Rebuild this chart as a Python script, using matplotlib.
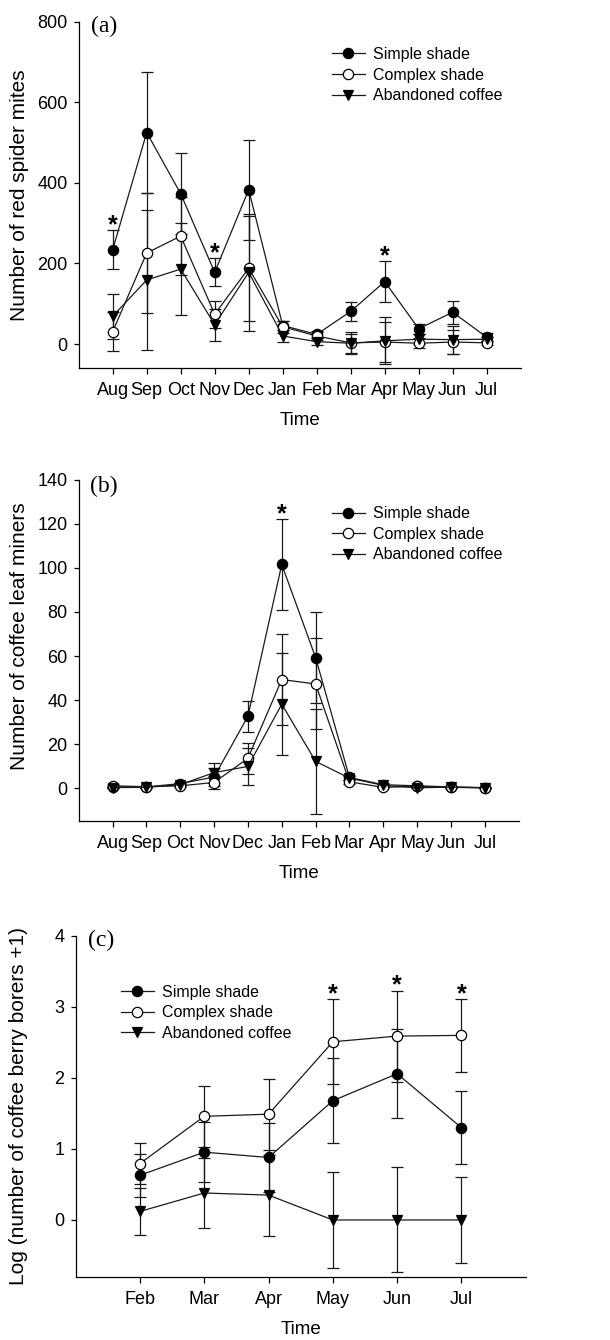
"""Seasonal pest counts under three coffee management types, panels (a)-(c)."""

import matplotlib

matplotlib.use("Agg")
import matplotlib.pyplot as plt
import numpy as np

plt.rcParams.update(
    {
        "font.family": ["Liberation Sans", "DejaVu Sans"],
        "font.size": 13,
        "axes.linewidth": 0.9,
        "xtick.major.width": 0.9,
        "ytick.major.width": 0.9,
        "xtick.major.size": 4.5,
        "ytick.major.size": 3.8,
        "xtick.direction": "out",
        "ytick.direction": "out",
        "xtick.labelsize": 13,
        "ytick.labelsize": 13,
    }
)

SERIES = ["Simple shade", "Complex shade", "Abandoned coffee"]

# (a) red spider mites, Aug..Jul
months_a = ["Aug", "Sep", "Oct", "Nov", "Dec", "Jan", "Feb", "Mar", "Apr", "May", "Jun", "Jul"]
mites_simple = [234, 525, 373, 178, 383, 46, 24, 81, 155, 38, 79, 17]
mites_simple_err = [48, 149, 100, 35, 124, 12, 8, 23, 50, 12, 28, 10]
mites_complex = [31, 226, 268, 74, 188, 43, 20, 3, 5, 2, 5, 3]
mites_complex_err = [49, 149, 97, 34, 130, 15, 10, 27, 50, 12, 30, 5]
mites_aband = [69, 159, 186, 48, 178, 20, 6, 2, 8, 12, 11, 12]
mites_aband_err = [56, 173, 115, 40, 145, 16, 8, 24, 58, 12, 35, 5]
mites_stars = ["Aug", "Nov", "Apr"]

# (b) coffee leaf miners, Aug..Jul
miners_simple = [0.5, 0.5, 2.0, 5.0, 32.6, 101.6, 59.3, 4.8, 1.5, 1.0, 0.5, 0.2]
miners_simple_err = [0.5, 0.5, 0.8, 4.0, 7.0, 20.5, 20.7, 1.0, 0.6, 0.5, 0.4, 0.2]
miners_complex = [1.0, 0.6, 1.0, 2.5, 13.5, 49.3, 47.3, 2.8, 0.3, 0.8, 0.3, 0.1]
miners_complex_err = [0.6, 0.5, 0.6, 3.0, 7.0, 20.5, 20.7, 1.0, 0.3, 0.5, 0.3, 0.1]
miners_aband = [0.2, 0.3, 1.5, 7.0, 9.8, 38.1, 12.1, 4.5, 1.2, 0.1, 0.4, 0.1]
miners_aband_err = [0.2, 0.3, 0.8, 4.5, 8.5, 23.3, 24.0, 1.0, 0.6, 0.1, 0.3, 0.1]
miners_stars = ["Jan"]

# (c) log(coffee berry borers + 1), Feb..Jul
months_c = ["Feb", "Mar", "Apr", "May", "Jun", "Jul"]
borer_simple = [0.63, 0.955, 0.88, 1.68, 2.06, 1.30]
borer_simple_err = [0.30, 0.42, 0.49, 0.60, 0.63, 0.51]
borer_complex = [0.795, 1.46, 1.49, 2.51, 2.59, 2.60]
borer_complex_err = [0.29, 0.43, 0.50, 0.60, 0.64, 0.51]
borer_aband = [0.12, 0.38, 0.35, 0.0, 0.0, 0.0]
borer_aband_err = [0.33, 0.49, 0.57, 0.68, 0.74, 0.60]
borer_stars = ["May", "Jun", "Jul"]

STYLES = [
    dict(marker="o", mfc="black", mec="black"),
    dict(marker="o", mfc="white", mec="black"),
    dict(marker="v", mfc="black", mec="black"),
]
INK = "#1a1a1a"


def draw_panel(ax, months, series, errs, stars, ylim, yticks, ylabel, label_xy,
               tag, tag_y, legend_xy):
    x = np.arange(len(months))
    for vals, err, style, name in zip(series, errs, STYLES, SERIES):
        ax.errorbar(x, vals, yerr=err, fmt="none", ecolor=INK, elinewidth=0.9,
                    capsize=4.3, capthick=0.9, zorder=2)
        ax.plot(x, vals, color=INK, lw=0.9, ms=7.4, mew=0.9, label=name,
                zorder=3, **style)

    # significance stars sit above the highest upper error cap
    tops = np.max([np.asarray(v) + np.asarray(e) for v, e in zip(series, errs)], axis=0)
    for m in stars:
        i = months.index(m)
        ax.annotate("*", (x[i], tops[i]), xytext=(0, -1.5), textcoords="offset points",
                    ha="center", va="baseline", fontsize=18, fontweight="bold")

    ax.set_xlim(-1, len(months))
    ax.set_ylim(*ylim)
    ax.set_yticks(yticks)
    ax.set_xticks(x)
    ax.set_xticklabels(months)
    ax.tick_params(axis="x", pad=5.5)
    ax.tick_params(axis="y", pad=4.3)
    for side in ("top", "right"):
        ax.spines[side].set_visible(False)
    ax.set_xlabel("Time", fontsize=13.5, labelpad=9.5)
    ax.set_ylabel(ylabel, fontsize=15)
    ax.yaxis.set_label_coords(*label_xy)
    ax.text(0.057, tag_y, tag, transform=ax.transAxes,
            ha="center", va="center", fontsize=17, family="Liberation Serif")
    ax.legend(loc="upper left", bbox_to_anchor=legend_xy, frameon=False,
              fontsize=11.5, numpoints=1, handlelength=2.1, handletextpad=0.5,
              labelspacing=0.35, borderpad=0, borderaxespad=0)


fig = plt.figure(figsize=(6.1, 13.4), dpi=100)
ax_a = fig.add_axes([0.1290, 0.7252, 0.7246, 0.2586])
ax_b = fig.add_axes([0.1290, 0.3873, 0.7213, 0.2545])
ax_c = fig.add_axes([0.1241, 0.0472, 0.7377, 0.2543])

draw_panel(ax_a, months_a, [mites_simple, mites_complex, mites_aband],
           [mites_simple_err, mites_complex_err, mites_aband_err], mites_stars,
           (-60, 800), np.arange(0, 801, 200), "Number of red spider mites",
           (-0.113, 0.5), "(a)", 0.985, (0.572, 0.927))
draw_panel(ax_b, months_a, [miners_simple, miners_complex, miners_aband],
           [miners_simple_err, miners_complex_err, miners_aband_err], miners_stars,
           (-15, 140), np.arange(0, 141, 20), "Number of coffee leaf miners",
           (-0.113, 0.543), "(b)", 0.98, (0.575, 0.923))
draw_panel(ax_c, months_c, [borer_simple, borer_complex, borer_aband],
           [borer_simple_err, borer_complex_err, borer_aband_err], borer_stars,
           (-0.8, 4), np.arange(0, 5, 1), "Log (number of coffee berry borers +1)",
           (-0.105, 0.5), "(c)", 0.988, (0.100, 0.857))

fig.savefig("out.png", dpi=100)
